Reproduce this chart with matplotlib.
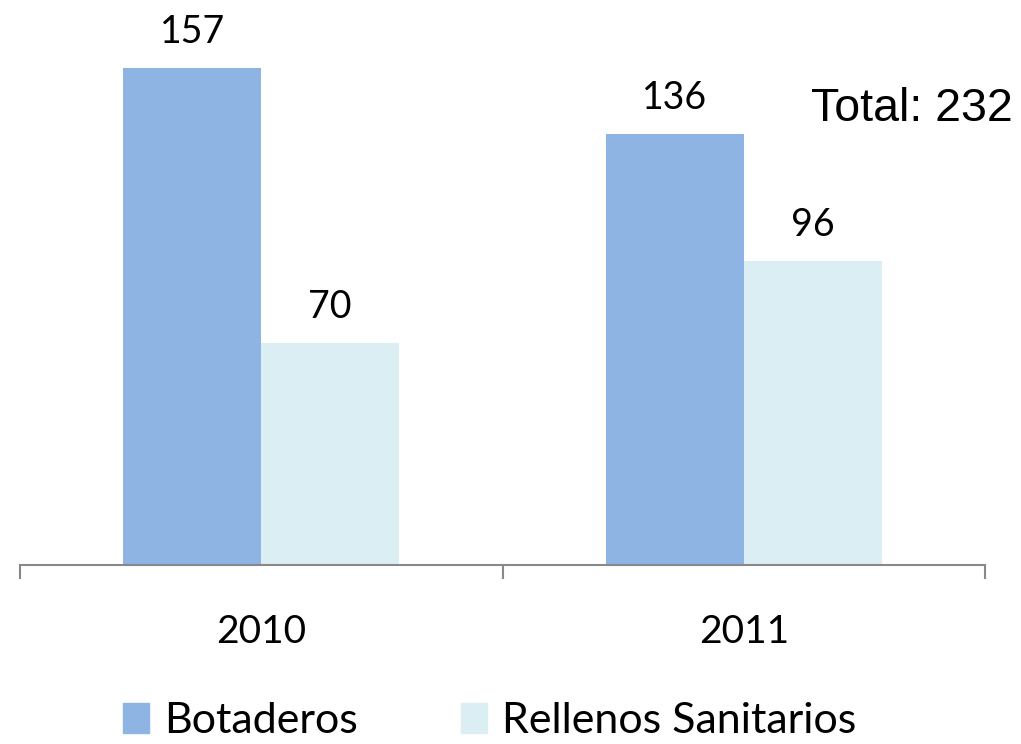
import matplotlib
matplotlib.use("Agg")
import matplotlib.pyplot as plt
import numpy as np
from matplotlib.patches import Patch

categories = ["2010", "2011"]
botaderos = [157, 136]
rellenos = [70, 96]
series_names = ["Botaderos", "Rellenos Sanitarios"]
total_text = "Total: 232"

c_bot = "#8EB4E3"
c_rel = "#DAEEF3"
axis_col = "#888888"
font = "Lato"

W, H = 1021, 744
fig = plt.figure(figsize=(W / 100, H / 100), dpi=100)
ax = fig.add_axes([20 / W, (H - 565) / H, 965 / W, 545 / H])

x = np.arange(len(categories))
bw = 0.286
b1 = ax.bar(x - bw / 2, botaderos, bw, color=c_bot, label=series_names[0])
b2 = ax.bar(x + bw / 2, rellenos, bw, color=c_rel, label=series_names[1])

ax.set_xlim(-0.5, len(categories) - 0.5)
ax.set_ylim(0, 545 / 3.166)

for bars, vals in ((b1, botaderos), (b2, rellenos)):
    for b, v in zip(bars, vals):
        ax.annotate(str(v), (b.get_x() + b.get_width() / 2, v),
                    xytext=(0, 13), textcoords="offset points",
                    ha="center", va="bottom", fontsize=27, family=font,
                    color="black")

for s in ("top", "right", "left"):
    ax.spines[s].set_visible(False)
ax.spines["bottom"].set_color(axis_col)
ax.spines["bottom"].set_linewidth(1.5)
ax.set_yticks([])

ax.set_xticks(np.arange(-0.5, len(categories), 1.0))
ax.set_xticklabels([])
ax.tick_params(axis="x", direction="out", length=10, width=1.5, color=axis_col)
ax.set_xticks(x, minor=True)
ax.set_xticklabels(categories, minor=True, fontsize=28, family=font)
ax.tick_params(axis="x", which="minor", length=0, pad=35)

fig.text(1013 / W, 1 - 109 / H, total_text, ha="right", va="center",
         fontsize=33.5, family="Liberation Sans")

handles = [Patch(color=c_bot, label=series_names[0]),
           Patch(color=c_rel, label=series_names[1])]
fig.legend(handles=handles, loc="center", bbox_to_anchor=(490 / W, 1 - 721 / H),
           ncol=2, frameon=False, prop={"family": font, "size": 31},
           handlelength=0.6, handleheight=0.7, handletextpad=0.35,
           columnspacing=2.4, borderaxespad=0, borderpad=0)

fig.savefig("out.png", dpi=100)
